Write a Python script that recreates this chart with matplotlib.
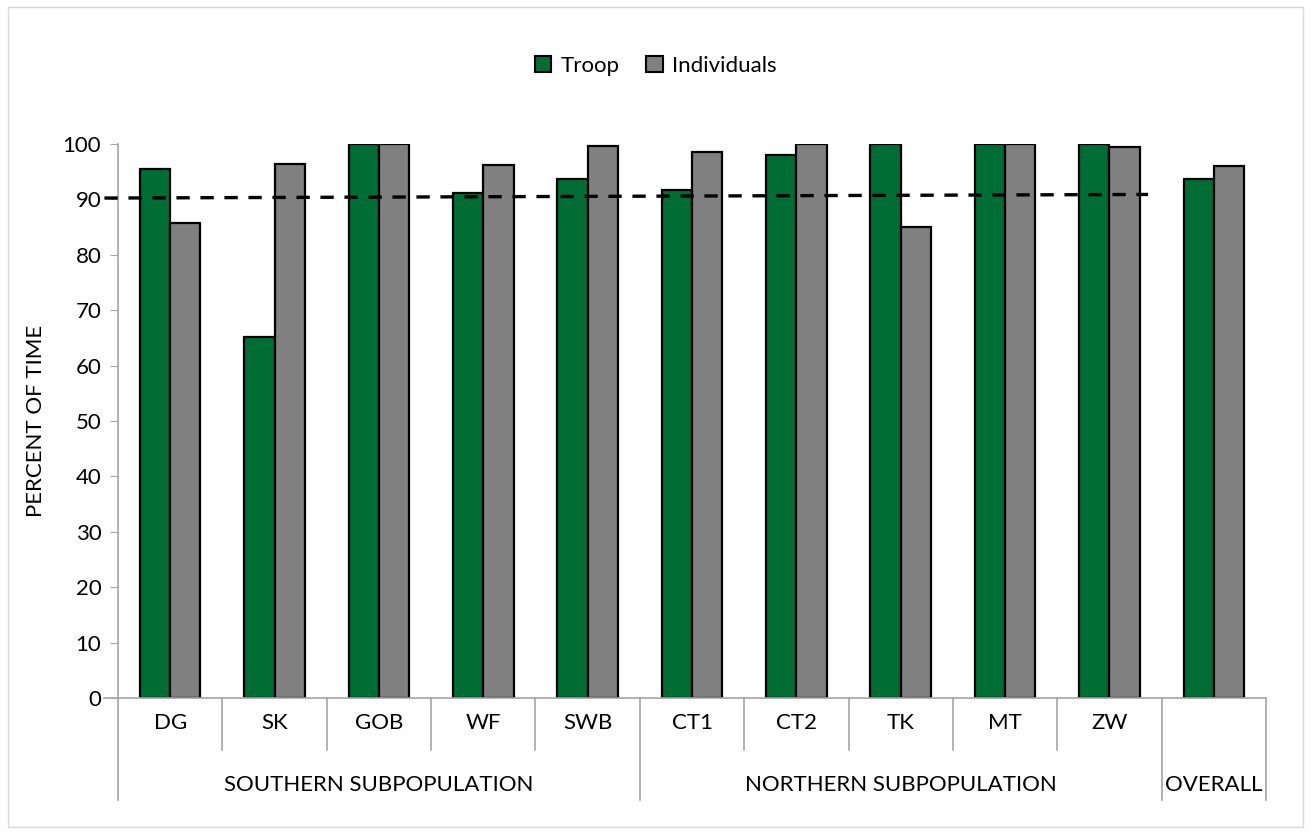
import numpy as np
import matplotlib.pyplot as plt
from matplotlib.patches import Rectangle, Patch

plt.rcParams['font.family'] = ['Lato', 'DejaVu Sans']

# Data
sites = ['DG', 'SK', 'GOB', 'WF', 'SWB', 'CT1', 'CT2', 'TK', 'MT', 'ZW', '']
groups = ['SOUTHERN SUBPOPULATION', 'NORTHERN SUBPOPULATION', 'OVERALL']
group_sizes = [5, 5, 1]
troop = [95.5, 65.2, 100, 91.2, 93.7, 91.7, 98.0, 100, 100, 100, 93.6]
individuals = [85.7, 96.4, 100, 96.2, 99.6, 98.6, 100, 85.0, 100, 99.4, 96.1]
trend_x = [-0.63, 9.37]
trend_y = [90.25, 90.9]

green = '#006D35'
grey = '#808080'
axis_grey = '#A6A6A6'
fs = 16

fig = plt.figure(figsize=(13.11, 8.34), dpi=100)
ax = fig.add_axes([0.090, 0.163, 0.8757, 0.6643])

x = np.arange(len(sites))
w = 0.29
ax.bar(x - w / 2, troop, w, color=green, edgecolor='black', linewidth=1.6, label='Troop')
ax.bar(x + w / 2, individuals, w, color=grey, edgecolor='black', linewidth=1.6, label='Individuals')

# dashed reference line
ax.plot(trend_x, trend_y, color='black', linewidth=2.4, dashes=(4, 3.2), clip_on=False, zorder=5)

ax.set_xlim(-0.5, len(sites) - 0.5)
ax.set_ylim(0, 100)
ax.set_yticks(np.arange(0, 101, 10))
ax.tick_params(axis='y', labelsize=fs, length=6, color=axis_grey, pad=6)
ax.set_xticks([])
for s in ['top', 'right']:
    ax.spines[s].set_visible(False)
ax.spines['left'].set_color(axis_grey)
ax.spines['bottom'].set_color(axis_grey)
ax.spines['bottom'].set_linewidth(1.2)
ax.spines['left'].set_linewidth(1.2)
ax.set_ylabel('PERCENT OF TIME', fontsize=fs, labelpad=12)

# multi-level category axis
trans = ax.get_xaxis_transform()
ax.plot([-0.63, -0.5], [0, 0], color=axis_grey, lw=1.2, transform=trans, clip_on=False)
for i, s in enumerate(sites):
    ax.text(i, -0.045, s, transform=trans, ha='center', va='center', fontsize=fs)
bounds = np.cumsum([0] + group_sizes)
for k in range(len(sites) + 1):
    if k in bounds:
        ax.plot([k - 0.5, k - 0.5], [0, -0.184], color=axis_grey, lw=1.2, transform=trans, clip_on=False)
    else:
        ax.plot([k - 0.5, k - 0.5], [0, -0.094], color=axis_grey, lw=1.2, transform=trans, clip_on=False)
for g, a, b in zip(groups, bounds[:-1], bounds[1:]):
    ax.text((a + b - 1) / 2, -0.157, g, transform=trans, ha='center', va='center', fontsize=fs)

handles = [Patch(facecolor=green, edgecolor='black', linewidth=1.5),
           Patch(facecolor=grey, edgecolor='black', linewidth=1.5)]
fig.legend(handles, ['Troop', 'Individuals'], loc='center', bbox_to_anchor=(0.5, 0.921),
           ncol=2, frameon=False, fontsize=fs, handlelength=0.75, handleheight=0.75,
           handletextpad=0.4, columnspacing=1.2)

# chart border
fig.patches.append(Rectangle((0.006, 0.008), 0.988, 0.984, transform=fig.transFigure,
                             fill=False, edgecolor='#D9D9D9', linewidth=1))

fig.savefig('out.png', dpi=100)
